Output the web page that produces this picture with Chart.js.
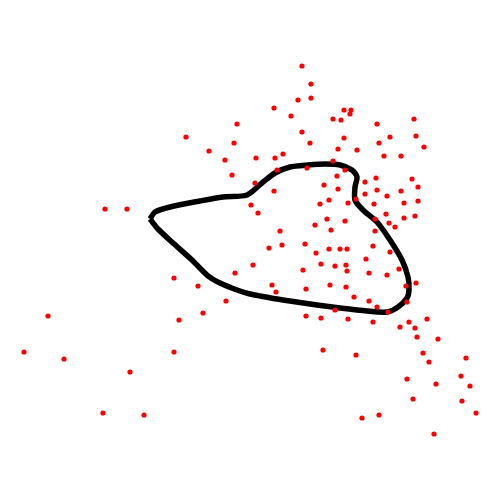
<!DOCTYPE html>
<html>
<head>
<meta charset="utf-8">
<script src="https://cdn.jsdelivr.net/npm/chart.js@4/dist/chart.umd.min.js"></script>
<style>html,body{margin:0;padding:0;background:#fff;}canvas{display:block;}</style>
</head>
<body>
<canvas id="c" width="500" height="500"></canvas>
<script>
const scatterX = [237,186,234,209,225,232,105,127,
302,311,298,311,274,344,351,350,291,333,341,414,377,302,416,390,344,379,310,424,338,357,256,275,283,384,401,333,277,307,345,337,376,412,255,365,324,418,274,338,377,401,365,387,251,329,418,320,348,374,404,258,386,327,345,375,404,415,315,389,395,280,331,375,269,282,305,329,340,347,373,356,
174,198,235,226,203,179,48,24,64,174,130,103,144,
316,390,253,321,335,346,366,303,347,369,387,399,272,276,306,330,346,406,416,354,369,407,377,335,388,306,321,348,373,400,409,415,427,417,438,323,356,423,429,466,407,436,461,470,413,462,476,362,379,434];
const scatterY = [376,363,357,349,340,325,291,291,
434,416,400,402,392,390,390,386,384,381,380,381,376,368,364,363,362,357,357,353,351,350,342,342,346,344,344,339,330,332,330,324,322,321,317,318,315,313,309,311,310,309,306,304,295,300,299,296,297,296,297,287,286,281,279,281,282,284,275,277,273,269,270,269,252,255,256,251,251,251,254,301,
222,214,227,199,187,180,184,148,141,148,128,87,85,
247,248,235,236,234,235,241,230,229,227,225,231,215,208,211,215,213,214,217,203,199,198,193,190,188,184,182,181,178,173,178,172,181,163,161,150,145,147,138,142,121,116,124,114,101,99,87,82,85,66];
// Closed outline (x, y)
const curveX = [150,155,170,200,223,247,262,275,290,308,325,340,352,357,355,355,363,377,390,402,408,409,407,398,387,367,340,317,283,260,250,237,220,207,192,173,158,150];
const curveY = [281,288,293,299,303,305,317,327,333,335,336,335,330,323,313,300,290,278,260,240,223,210,202,193,188,189,192,195,200,204,206,210,217,225,240,257,271,281];

const pts = scatterX.map((x,i)=>({x:x,y:scatterY[i]}));
const curve = curveX.map((x,i)=>({x:x,y:curveY[i]}));

new Chart(document.getElementById('c'), {
  type: 'scatter',
  data: {
    datasets: [
      {
        label: 'outline',
        data: curve,
        showLine: true,
        borderColor: '#000',
        borderWidth: 5.5,
        tension: 0.25,
        pointRadius: 0,
        fill: false,
        order: 2
      },
      {
        label: 'points',
        data: pts,
        backgroundColor: '#ff0000',
        borderWidth: 0,
        pointRadius: 2.6,
        order: 1
      }
    ]
  },
  options: {
    responsive: false,
    animation: false,
    clip: false,
    layout: { padding: 0, autoPadding: false },
    plugins: { legend: { display: false }, tooltip: { enabled: false } },
    scales: {
      x: { type: 'linear', min: 0, max: 500, display: false },
      y: { type: 'linear', min: 0, max: 500, display: false }
    }
  }
});
</script>
</body>
</html>
